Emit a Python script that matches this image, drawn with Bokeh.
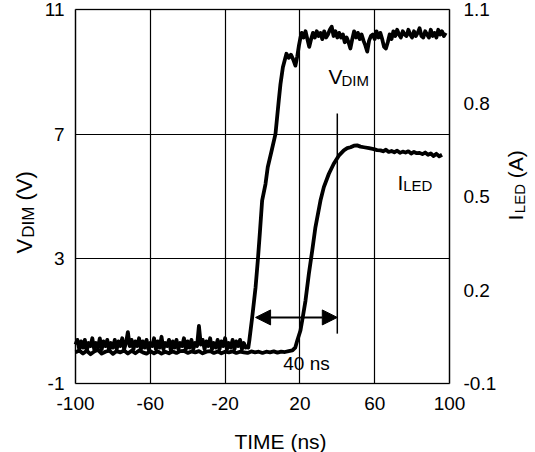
import math
from bokeh.plotting import figure
from bokeh.models import (Range1d, LinearAxis, FixedTicker, Label, Arrow, NormalHead,
                          PrintfTickFormatter, Grid, BoxAnnotation)
from bokeh.embed import file_html
from bokeh.resources import INLINE

# ---------------- data ----------------
time_lo, time_hi = -100, 100
vdim_lo, vdim_hi = -1, 11
iled_lo, iled_hi = -0.1, 1.1
time_ticks = [-100, -60, -20, 20, 60, 100]
vdim_ticks = [-1, 3, 7, 11]
iled_ticks = [-0.1, 0.2, 0.5, 0.8, 1.1]

# V_DIM: noisy low level, sampled every 1 ns from -100 to -8 ns
vdim_base_t = list(range(-100, -7, 1))
vdim_base_v = [0.25, 0.4, 0.1, 0.35, 0.15, 0.4, 0.05, 0.3, 0.2, 0.45,
               0.1, 0.3, 0.15, 0.45, 0.1, 0.35, 0.2, 0.4, 0.05, 0.3,
               0.15, 0.4, 0.1, 0.35, 0.2, 0.45, 0.1, 0.3, 0.65, 0.2,
               0.4, 0.1, 0.35, 0.2, 0.45, 0.1, 0.35, 0.15, 0.4, 0.1,
               0.3, 0.2, 0.45, 0.1, 0.35, 0.15, 0.5, 0.1, 0.3, 0.2,
               0.4, 0.05, 0.35, 0.15, 0.4, 0.1, 0.3, 0.2, 0.45, 0.1,
               0.35, 0.15, 0.4, 0.1, 0.3, 0.2, 0.85, 0.25, 0.4, 0.1,
               0.35, 0.2, 0.45, 0.1, 0.3, 0.15, 0.4, 0.1, 0.35, 0.2,
               0.45, 0.1, 0.3, 0.15, 0.4, 0.1, 0.35, 0.2, 0.4, 0.1,
               0.3, 0.15, 0.2]
# V_DIM: rising edge
vdim_edge_t = [-7.6, -7.0, -5.5, -3.7, -2.5, -1.45, -0.2, 1.6, 2.8, 5.0, 6.95,
               8.7, 9.6, 10.9, 12.8, 14.0, 15.2, 16.4, 17.6, 18.6, 19.5, 20.3]
vdim_edge_v = [0.15, 0.4, 1.13, 2.09, 2.95, 3.8, 4.87, 5.4, 5.94, 6.5, 7.01,
               8.08, 8.6, 9.15, 9.58, 9.45, 9.55, 9.4, 9.2, 9.5, 9.85, 10.1]
# V_DIM: noisy high level, every 1 ns from 21 to 98 ns
vdim_top_t = list(range(21, 99, 1))
vdim_top_v = [10.25, 10.1, 10.3, 10.05, 9.8, 10.05, 10.25, 10.1, 10.3, 10.15,
              10.25, 10.05, 10.3, 10.1, 10.2, 10.35, 10.45, 10.15, 10.3, 10.1,
              10.25, 10.1, 10.2, 9.95, 10.1, 9.95, 9.75, 10.05, 10.3, 10.1,
              10.25, 10.05, 10.2, 10.0, 9.85, 9.65, 10.0, 10.15, 10.2, 10.05,
              10.3, 10.1, 10.25, 10.05, 9.8, 9.75, 9.95, 10.2, 10.05, 10.3,
              10.15, 10.35, 10.2, 10.1, 10.3, 10.2, 10.15, 10.35, 10.2, 10.1,
              10.3, 10.15, 10.25, 10.4, 10.15, 10.1, 10.3, 10.2, 10.1, 10.35,
              10.15, 10.25, 10.1, 10.35, 10.2, 10.3, 10.15, 10.25]

# I_LED: low level every 2 ns from -100 to 16 ns
iled_base_t = list(range(-100, 17, 2))
iled_base_a = [0.0, 0.006, -0.004, 0.005, -0.006, 0.003, 0.008, -0.004, 0.002, 0.006,
               -0.005, 0.004, 0.0, 0.006, -0.004, 0.005, -0.003, 0.006, 0.0, -0.004,
               0.004, -0.003, 0.003, -0.004, 0.002, -0.003, 0.003, -0.002, 0.004, 0.005,
               -0.002, 0.003, 0.0, 0.004, -0.003, 0.002, 0.004, -0.002, 0.003, -0.003,
               0.002, 0.0, 0.003, -0.002, 0.002, 0.0, -0.002, 0.003, 0.0, 0.002,
               -0.002, 0.002, 0.0, 0.003, -0.001, 0.002, 0.001, 0.004, 0.006]
# I_LED: rise and plateau
iled_rise_t = [17.5, 18.6, 20.3, 21.6, 23.0, 24.8, 26.6, 28.3, 31.0, 32.8, 35.5,
               38.1, 40.8, 43.5, 45.3, 47.1, 48.9, 50.6, 52.4, 54.2, 57.0, 59.5, 61.3, 63.1]
iled_rise_a = [0.015, 0.038, 0.07, 0.115, 0.166, 0.252, 0.327, 0.401, 0.487, 0.53,
               0.573, 0.605, 0.631, 0.648, 0.655, 0.658, 0.663, 0.664, 0.66, 0.658,
               0.655, 0.652, 0.649, 0.648]
iled_top_t = [64.5, 66, 67.5, 69, 70.5, 72, 73.5, 75, 76.5, 78, 79.5, 81, 82.5,
              84, 85.5, 87, 88.5, 90, 91.5, 93, 94.5, 96]
iled_top_a = [0.645, 0.65, 0.643, 0.646, 0.642, 0.647, 0.64, 0.644, 0.641, 0.645,
              0.638, 0.643, 0.639, 0.64, 0.636, 0.641, 0.634, 0.638, 0.63, 0.637,
              0.629, 0.634]

# delay annotation (ns, V)
delay_start_t = -3.7
delay_end_t = 40
delay_arrow_v = 1.12
marker_v0, marker_v1 = 0.6, 7.66
delay_text = "40 ns"

vdim_t = vdim_base_t + vdim_edge_t + vdim_top_t
vdim_v = vdim_base_v + vdim_edge_v + vdim_top_v
iled_t = iled_base_t + iled_rise_t + iled_top_t
iled_a = iled_base_a + iled_rise_a + iled_top_a

# ---------------- layout (pixels) ----------------
W, H = 535, 452
FL, FR, FT, FB = 75, 449, 9, 383          # plotting box inside the canvas
FONT = "Liberation Sans"


def padded(lo, hi, pad_lo_px, pad_hi_px, span_px):
    k = (hi - lo) / span_px
    return Range1d(lo - pad_lo_px * k, hi + pad_hi_px * k)


x_rng = padded(time_lo, time_hi, FL, W - FR, FR - FL)
y_rng = padded(vdim_lo, vdim_hi, H - FB, FT, FB - FT)
i_rng = padded(iled_lo, iled_hi, H - FB, FT, FB - FT)
px_t = (time_hi - time_lo) / (FR - FL)     # ns per pixel
px_v = (vdim_hi - vdim_lo) / (FB - FT)     # V per pixel

p = figure(width=W, height=H, output_backend="svg", toolbar_location=None,
           x_range=x_rng, y_range=y_rng, x_axis_type=None, y_axis_type=None,
           min_border=0, min_border_left=0, min_border_right=0,
           min_border_top=0, min_border_bottom=0,
           background_fill_color="white", border_fill_color="white",
           outline_line_color=None,
           styles={"position": "absolute", "left": "0px", "top": "0px"})
p.extra_y_ranges = {"iled": i_rng}

# axes drawn at the edges of the plotting box
bottom = LinearAxis(fixed_location=vdim_lo, bounds=(time_lo, time_hi),
                    ticker=FixedTicker(ticks=time_ticks),
                    formatter=PrintfTickFormatter(format="%d"))
left = LinearAxis(fixed_location=time_lo, bounds=(vdim_lo, vdim_hi),
                  ticker=FixedTicker(ticks=vdim_ticks),
                  formatter=PrintfTickFormatter(format="%d"))
right = LinearAxis(fixed_location=time_hi, y_range_name="iled", bounds=(iled_lo, iled_hi),
                   ticker=FixedTicker(ticks=iled_ticks),
                   formatter=PrintfTickFormatter(format="%.1f"))
p.add_layout(bottom, "below")
p.add_layout(left, "left")
p.add_layout(right, "right")
for ax in [bottom, left, right]:
    ax.axis_line_color = None
    ax.major_tick_line_color = None
    ax.minor_tick_line_color = None
    ax.major_tick_out = 0
    ax.major_tick_in = 0
    ax.major_label_text_font = FONT
    ax.major_label_text_font_size = "19px"
    ax.major_label_text_color = "black"
bottom.major_label_standoff = 13
left.major_label_standoff = 11
right.major_label_standoff = 14

# grid lines limited to the plotting box
if "cross_bounds" in Grid.properties():
    p.add_layout(Grid(dimension=0, ticker=FixedTicker(ticks=time_ticks),
                      cross_bounds=(vdim_lo, vdim_hi), grid_line_color="black",
                      grid_line_width=1.2))
    p.add_layout(Grid(dimension=1, ticker=FixedTicker(ticks=vdim_ticks),
                      cross_bounds=(time_lo, time_hi), grid_line_color="black",
                      grid_line_width=1.2))
else:
    p.segment(x0=time_ticks, y0=[vdim_lo] * len(time_ticks), x1=time_ticks,
              y1=[vdim_hi] * len(time_ticks), line_color="black", line_width=1.2)
    p.segment(x0=[time_lo] * len(vdim_ticks), y0=vdim_ticks,
              x1=[time_hi] * len(vdim_ticks), y1=vdim_ticks,
              line_color="black", line_width=1.2)

p.add_layout(BoxAnnotation(left=time_lo, right=time_hi, bottom=vdim_lo, top=vdim_hi,
                           fill_alpha=0, line_color="black", line_width=2))

p.line(vdim_t, vdim_v, line_color="black", line_width=3.8, line_join="round")
p.line(iled_t, iled_a, line_color="black", line_width=3.8, line_join="round",
       y_range_name="iled")

# delay marker
p.segment(x0=[delay_end_t], y0=[marker_v0], x1=[delay_end_t], y1=[marker_v1],
          line_color="black", line_width=1.5)
p.add_layout(Arrow(start=NormalHead(size=15, fill_color="black", line_color="black"),
                   end=NormalHead(size=15, fill_color="black", line_color="black"),
                   x_start=delay_start_t, y_start=delay_arrow_v,
                   x_end=delay_end_t, y_end=delay_arrow_v,
                   line_color="black", line_width=2))


def px_x(x):
    return time_lo + (x - FL) * px_t


def px_y(y):
    return vdim_lo + (FB - y) * px_v


def mk(**kw):
    lb = Label(text_font=FONT, text_color="black", text_baseline="middle", **kw)
    p.add_layout(lb)
    return lb


mk(x=px_x(306), y=px_y(363), text=delay_text, text_font_size="19px",
   text_align="center")
mk(x=px_x(280), y=px_y(441), text="TIME (ns)", text_font_size="21px",
   text_align="center")


def sub_text(x, y, main, sub, main_size, sub_size, main_w, sub_shift):
    """horizontal main text followed by a lowered subscript"""
    mk(x=x, y=y, text=main, text_font_size=f"{main_size}px", text_align="left")
    mk(x=x, y=y, text=sub, text_font_size=f"{sub_size}px", text_align="left",
       x_offset=main_w * main_size, y_offset=-sub_shift)


def sub_title(x, y, main, sub, rest, main_size, sub_size, main_w, sub_w, sub_shift):
    """vertical (reading upward) title: main, subscript, rest"""
    a = math.pi / 2
    adv = main_w * main_size + 1
    mk(x=x, y=y, text=main, text_font_size=f"{main_size}px", angle=a, text_align="left")
    mk(x=x, y=y, text=sub, text_font_size=f"{sub_size}px", angle=a, text_align="left",
       x_offset=sub_shift, y_offset=adv)
    adv2 = adv + sub_w * sub_size + 0.278 * main_size
    mk(x=x, y=y, text=rest, text_font_size=f"{main_size}px", angle=a, text_align="left",
       y_offset=adv2)


# trace labels
sub_text(px_x(328), px_y(75.5), "V", "DIM", 21, 15, 0.62, 4.5)
sub_text(px_x(397), px_y(181.5), "I", "LED", 21, 15, 0.27, 3.5)
# axis titles
sub_title(px_x(24), px_y(253), "V", "DIM", "(V)", 22, 17, 0.667, 1.833, 3.5)
sub_title(px_x(515), px_y(220), "I", "LED", "(A)", 21, 15, 0.3, 1.945, 3.5)

open("out.html", "w").write(file_html(p, INLINE))
